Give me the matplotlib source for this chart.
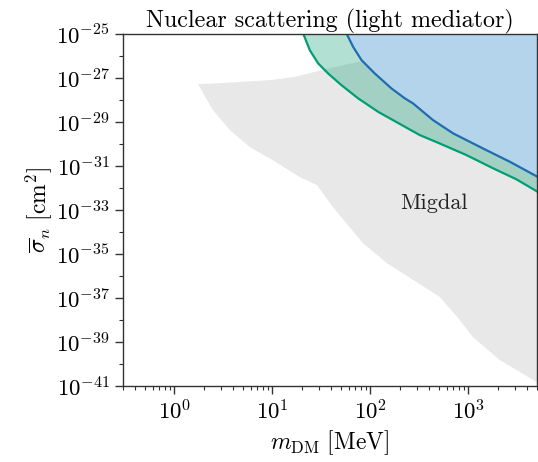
"""
Nuclear scattering limits, light mediator, with the Migdal region in grey.
"""

import numpy as np
import matplotlib
matplotlib.use('Agg')
import matplotlib.pyplot as plt
from matplotlib.ticker import FixedLocator, LogLocator, NullFormatter

plt.rcParams['font.family'] = 'serif'
plt.rcParams['font.serif'] = ['cmr10']
plt.rcParams['mathtext.fontset'] = 'cm'
plt.rcParams['axes.formatter.use_mathtext'] = True
plt.rcParams['axes.unicode_minus'] = False

# Values, as log10 of m_DM [MeV] and sigma_n [cm^2]
green_logm = [1.281, 1.315, 1.383, 1.468, 1.570, 1.706, 1.876, 2.079,
              2.352, 2.505, 2.708, 2.981, 3.252, 3.490, 3.707]
green_logs = [-24.59, -24.97, -25.73, -26.33, -26.79, -27.32, -27.92, -28.53,
              -29.21, -29.59, -29.97, -30.5, -31.10, -31.60, -32.17]

blue_logm = [1.72, 1.757, 1.825, 1.910, 2.046, 2.216, 2.352, 2.436,
             2.640, 2.844, 3.150, 3.422, 3.707]
blue_logs = [-24.64, -24.97, -25.58, -26.18, -26.79, -27.47, -27.92, -28.15,
             -28.91, -29.51, -30.20, -30.80, -31.49]

# Migdal region: upper edge left to right, then lower edge right to left
migdal_logm = [0.242, 0.466, 0.975, 1.230, 1.570, 1.876, 2.5, 3.72,
               3.72, 3.697, 3.32, 3.045, 2.912, 2.708, 2.168, 1.923,
               1.618, 1.455, 1.281, 1.006, 0.772, 0.568, 0.394]
migdal_logs = [-27.27, -27.23, -27.09, -26.94, -26.56, -26.26, -25.73, -25.0,
               -41.0, -40.82, -39.82, -38.77, -38.0, -36.95, -35.41, -34.5,
               -32.86, -31.86, -31.5, -30.73, -30.14, -29.36, -28.45]

fig = plt.figure(figsize=(5.38, 4.62), dpi=100)
ax = fig.add_axes([0.2286, 0.1645, 0.7694, 0.7615])

mx = 10.0**np.array(migdal_logm)
my = 10.0**np.array(migdal_logs)
ax.fill(mx, my, color='#e8e8e8', lw=0, zorder=1)

gx = 10.0**np.array(green_logm)
gy = 10.0**np.array(green_logs)
bx = 10.0**np.array(blue_logm)
by = 10.0**np.array(blue_logs)

ax.fill_between(gx, gy, 1e-20, color='#029e73', alpha=0.3, lw=0, zorder=2)
ax.fill_between(bx, by, 1e-20, color='#b3d4ea', lw=0, zorder=3)
ax.plot(gx, gy, color='#029e73', lw=1.6, zorder=4, solid_joinstyle='round')
ax.plot(bx, by, color='#1f6cb0', lw=1.6, zorder=5, solid_joinstyle='round')

ax.text(10**2.65, 10**-32.68, 'Migdal', fontsize=16, ha='center', va='center',
        color='#222222', zorder=6)

ax.set_xscale('log')
ax.set_yscale('log')
ax.set_xlim(0.3, 5000)
ax.set_ylim(1e-41, 1e-25)

ax.yaxis.set_major_locator(FixedLocator(10.0**np.arange(-41, -24, 2)))
ax.yaxis.set_minor_locator(FixedLocator(10.0**np.arange(-40, -25, 2)))
ax.yaxis.set_minor_formatter(NullFormatter())
ax.xaxis.set_major_locator(LogLocator(base=10, numticks=10))
ax.xaxis.set_minor_locator(LogLocator(base=10, subs=np.arange(2, 10), numticks=20))
ax.xaxis.set_minor_formatter(NullFormatter())

ax.tick_params(which='major', direction='out', length=6, width=1, labelsize=16.5,
               color='#333333')
ax.tick_params(which='minor', direction='out', length=3, width=0.8, color='#333333')
for sp in ax.spines.values():
    sp.set_color('#333333')
    sp.set_linewidth(1)
    sp.set_zorder(10)

ax.set_title('Nuclear scattering (light mediator)', fontsize=17.3, pad=1)
ax.set_xlabel(r'$m_{\rm DM}\ [\mathrm{MeV}]$', fontsize=17, labelpad=3)
ax.set_ylabel(r'$\overline{\sigma}_n\ [\mathrm{cm}^2]$', fontsize=17, labelpad=1)

fig.savefig('out.png', dpi=100)
